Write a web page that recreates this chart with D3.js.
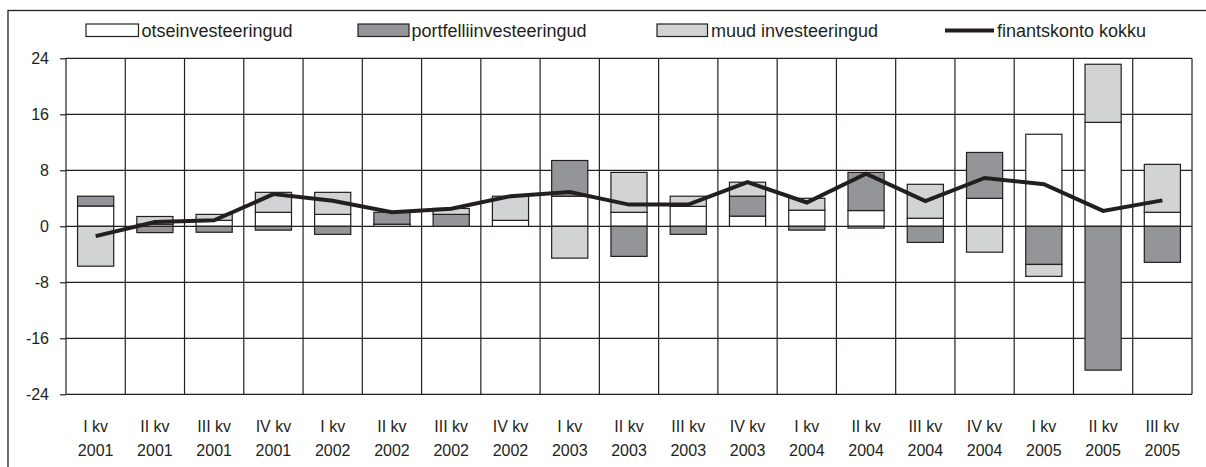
<!DOCTYPE html>
<html>
<head>
<meta charset="utf-8">
<script src="https://cdn.jsdelivr.net/npm/d3@7"></script>
<style>
  html, body { margin: 0; padding: 0; background: #fff; }
  svg { display: block; font-family: "Liberation Sans", Arial, sans-serif; }
</style>
</head>
<body>
<svg id="chart" width="1206" height="467"></svg>
<script>
// ---- data ----
const categories = ["I kv 2001","II kv 2001","III kv 2001","IV kv 2001",
  "I kv 2002","II kv 2002","III kv 2002","IV kv 2002",
  "I kv 2003","II kv 2003","III kv 2003","IV kv 2003",
  "I kv 2004","II kv 2004","III kv 2004","IV kv 2004",
  "I kv 2005","II kv 2005","III kv 2005"];
const otseinvesteeringud     = [2.9, 0.3, 0.85, 2.0, 1.7, 0.3, 0.0, 0.85, 4.3, 2.0, 2.85, 1.45, 2.3, 2.25, 1.15, 4.0, 13.15, 14.85, 2.0];
const portfelliinvesteeringud = [1.4, -0.9, -0.85, -0.55, -1.15, 1.7, 1.7, 0.0, 5.1, -4.3, -1.15, 2.85, -0.55, 5.45, -2.3, 6.55, -5.45, -20.55, -5.15];
const muudInvesteeringud     = [-5.7, 1.1, 0.85, 2.85, 3.15, 0.0, 0.85, 3.45, -4.55, 5.7, 1.45, 2.0, 1.7, -0.25, 4.85, -3.7, -1.7, 8.3, 6.85];
const finantskontoKokku      = [-1.4, 0.6, 0.85, 4.6, 3.65, 2.0, 2.5, 4.3, 4.9, 3.1, 3.1, 6.3, 3.4, 7.5, 3.6, 6.9, 6.0, 2.2, 3.7];
const yTicks = [-24, -16, -8, 0, 8, 16, 24];
const seriesNames = ["otseinvesteeringud", "portfelliinvesteeringud", "muud investeeringud", "finantskonto kokku"];

// ---- styles ----
const INK = "#231f20";
const colors = { otse: "#ffffff", portf: "#939598", muud: "#d1d3d4" };

const svg = d3.select("#chart");
const pLeft = 66, pRight = 1192, pTop = 58.3, pBottom = 394.3;

const x = d3.scaleBand().domain(categories).range([pLeft, pRight])
  .paddingInner(0.39).paddingOuter(0.195);
const step = x.step();
const y = d3.scaleLinear().domain([-24, 24]).range([pBottom, pTop]);

// outer border (extends past right/bottom edge like the reference)
svg.append("rect").attr("x", 8).attr("y", 10.5).attr("width", 1210).attr("height", 470)
  .attr("fill", "none").attr("stroke", INK).attr("stroke-width", 1.3);

// gridlines
const gGrid = svg.append("g").attr("stroke", INK).attr("stroke-width", 1.2);
gGrid.selectAll("line.h").data(yTicks).join("line").attr("class", "h")
  .attr("x1", pLeft).attr("x2", pRight)
  .attr("y1", d => y(d)).attr("y2", d => y(d));
const vEdges = categories.map(c => x(c) - (step - x.bandwidth()) / 2).concat([pRight]);
gGrid.selectAll("line.v").data(vEdges).join("line").attr("class", "v")
  .attr("x1", d => d).attr("x2", d => d)
  .attr("y1", pTop).attr("y2", pBottom);

// y axis
const yAxis = svg.append("g").attr("transform", `translate(${pLeft},0)`)
  .call(d3.axisLeft(y).tickValues(yTicks).tickSize(6).tickPadding(11).tickFormat(d => String(d)));
yAxis.select(".domain").remove();
yAxis.selectAll(".tick line").attr("stroke", INK).attr("stroke-width", 1.2);
yAxis.selectAll(".tick text").attr("fill", INK).attr("font-size", 16)
  .attr("font-family", "'Liberation Sans', Arial, sans-serif");

// x axis labels (two lines)
const xAxis = svg.append("g").attr("transform", `translate(0,${pBottom})`)
  .call(d3.axisBottom(x).tickSize(0).tickPadding(0));
xAxis.select(".domain").remove();
xAxis.selectAll(".tick text").each(function(d) {
  const parts = d.split(" ");
  const t = d3.select(this).text(null).attr("fill", INK).attr("font-size", 16)
    .attr("font-family", "'Liberation Sans', Arial, sans-serif").attr("dy", null).attr("y", 0);
  t.append("tspan").attr("x", 0).attr("y", 37.5).text(parts[0] + " " + parts[1]);
  t.append("tspan").attr("x", 0).attr("y", 62).text(parts[2]);
});

// stacked bars (diverging)
const rows = categories.map((c, i) => ({ cat: c, otse: otseinvesteeringud[i], portf: portfelliinvesteeringud[i], muud: muudInvesteeringud[i] }));
const stack = d3.stack().keys(["otse", "portf", "muud"]).offset(d3.stackOffsetDiverging);
const stacked = stack(rows);
const gBars = svg.append("g");
stacked.forEach(layer => {
  gBars.append("g").attr("fill", colors[layer.key]).attr("stroke", INK).attr("stroke-width", 1.2)
    .selectAll("rect").data(layer.filter(d => d[1] - d[0] !== 0)).join("rect")
    .attr("x", d => x(d.data.cat))
    .attr("width", x.bandwidth())
    .attr("y", d => y(Math.max(d[0], d[1])))
    .attr("height", d => Math.abs(y(d[0]) - y(d[1])));
});

// line
const line = d3.line().x((d, i) => x(categories[i]) + x.bandwidth() / 2).y(d => y(d));
svg.append("path").datum(finantskontoKokku).attr("d", line)
  .attr("fill", "none").attr("stroke", INK).attr("stroke-width", 4).attr("stroke-linejoin", "miter");

// legend
const legend = svg.append("g").attr("font-size", 18).attr("fill", INK);
const legItems = [
  { name: seriesNames[0], type: "rect", fill: colors.otse, x0: 86, x1: 138.5, tx: 141.5 },
  { name: seriesNames[1], type: "rect", fill: colors.portf, x0: 358, x1: 409, tx: 411.5 },
  { name: seriesNames[2], type: "rect", fill: colors.muud, x0: 657, x1: 707.5, tx: 711 },
  { name: seriesNames[3], type: "line", x0: 945, x1: 994, tx: 997 }
];
legItems.forEach(it => {
  if (it.type === "rect") {
    legend.append("rect").attr("x", it.x0).attr("y", 24).attr("width", it.x1 - it.x0).attr("height", 12.5)
      .attr("fill", it.fill).attr("stroke", INK).attr("stroke-width", 1.2);
  } else {
    legend.append("line").attr("x1", it.x0).attr("x2", it.x1).attr("y1", 30.5).attr("y2", 30.5)
      .attr("stroke", INK).attr("stroke-width", 4);
  }
  legend.append("text").attr("x", it.tx).attr("y", 37).text(it.name);
});
</script>
</body>
</html>
